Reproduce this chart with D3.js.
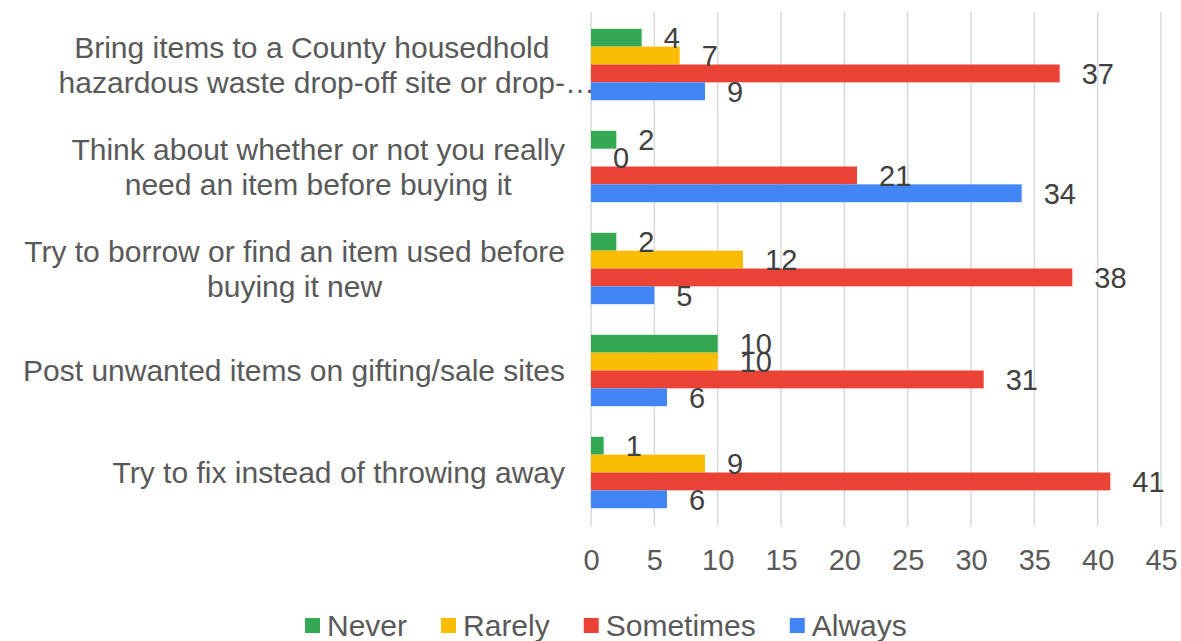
<!DOCTYPE html>
<html><head><meta charset="utf-8">
<script src="https://cdn.jsdelivr.net/npm/d3@7"></script>
<style>
html,body{margin:0;padding:0;background:#fff;}
svg{display:block;font-family:"Liberation Sans",Arial,sans-serif;}
</style></head>
<body><svg id="chart" width="1181" height="641"></svg>
<script>
const categories = [
  ["Bring items to a County housedhold", "hazardous waste drop-off site or drop-…"],
  ["Think about whether or not you really", "need an item before buying it"],
  ["Try to borrow or find an item used before", "buying it new"],
  ["Post unwanted items on gifting/sale sites"],
  ["Try to fix instead of throwing away"]
];
const seriesNames = ["Never", "Rarely", "Sometimes", "Always"];
const never = [4, 2, 2, 10, 1];
const rarely = [7, 0, 12, 10, 9];
const sometimes = [37, 21, 38, 31, 41];
const always = [9, 34, 5, 6, 6];
const xTicks = [0, 5, 10, 15, 20, 25, 30, 35, 40, 45];
const colors = ["#34A853", "#FBBC04", "#EA4335", "#4285F4"];

const seriesValues = [never, rarely, sometimes, always];
const svg = d3.select("#chart");
const fsText = 30;
const fsNum = 29;
const x = d3.scaleLinear().domain([0, 45]).range([591, 1161]);
const y0 = d3.scaleBand().domain(d3.range(categories.length)).range([13.5, 523.5]).paddingInner(0.3).paddingOuter(0.15);
const y1 = d3.scaleBand().domain(d3.range(seriesNames.length)).range([0, y0.bandwidth()]);

// gridlines
svg.append("g").selectAll("line").data(xTicks).join("line")
  .attr("x1", d => x(d)).attr("x2", d => x(d))
  .attr("y1", 12).attr("y2", 526)
  .attr("stroke", "#d9d9d9").attr("stroke-width", 1.5);

// x axis labels
const xAxis = d3.axisBottom(x).tickValues(xTicks).tickSize(0).tickPadding(0);
const gx = svg.append("g").attr("transform", "translate(0,570)").call(xAxis);
gx.select(".domain").remove();
gx.selectAll("text").attr("font-size", fsNum).attr("fill", "#595959")
  .attr("font-family", "Liberation Sans, Arial, sans-serif").attr("y", 0).attr("dy", "0");

// bars
const groups = svg.append("g").selectAll("g").data(categories).join("g")
  .attr("transform", (d, i) => `translate(0,${y0(i)})`);
groups.each(function (c, ci) {
  const g = d3.select(this);
  seriesValues.forEach((vals, si) => {
    g.append("rect")
      .attr("x", x(0)).attr("y", y1(si))
      .attr("width", x(vals[ci]) - x(0)).attr("height", y1.bandwidth())
      .attr("fill", colors[si]);
  });
  seriesValues.forEach((vals, si) => {
    g.append("text")
      .attr("x", x(vals[ci]) + 22).attr("y", y1(si) + y1.bandwidth() / 2)
      .attr("dy", "0.36em")
      .attr("font-size", fsNum).attr("fill", "#404040")
      .text(vals[ci]);
  });
});

// category labels
const rightEdge = 565;
const lineH = 35;
function textWidth(s, size) {
  const t = svg.append("text").attr("font-size", size).text(s);
  const w = t.node().getComputedTextLength();
  t.remove();
  return w;
}
categories.forEach((lines, ci) => {
  const cy = y0(ci) + y0.bandwidth() / 2;
  const maxW = d3.max(lines, l => textWidth(l.replace("…", ""), fsText));
  const cx = rightEdge - maxW / 2;
  lines.forEach((l, li) => {
    const ly = cy + (li - (lines.length - 1) / 2) * lineH;
    const t = svg.append("text").attr("font-size", fsText).attr("fill", "#595959")
      .attr("y", ly).attr("dy", "0.36em");
    if (l.endsWith("…")) {
      const w = textWidth(l.replace("…", ""), fsText);
      t.attr("x", cx - w / 2).attr("text-anchor", "start").text(l);
    } else {
      t.attr("x", cx).attr("text-anchor", "middle").text(l);
    }
  });
});

// legend
const legend = svg.append("g").attr("transform", "translate(0,625.5)");
let lx = 305;
seriesNames.forEach((n, i) => {
  legend.append("rect").attr("x", lx).attr("y", -7.5).attr("width", 15).attr("height", 15).attr("fill", colors[i]);
  const t = legend.append("text").attr("x", lx + 22).attr("y", 0).attr("dy", "0.36em")
    .attr("font-size", fsText).attr("fill", "#595959").text(n);
  lx += 22 + t.node().getComputedTextLength() + 34;
});
</script></body></html>
